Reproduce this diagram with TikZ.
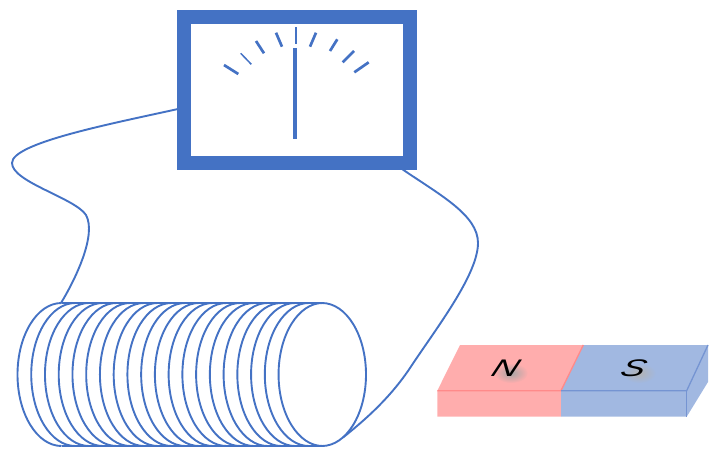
\documentclass[tikz,border=0pt]{standalone}
\usepackage{fontspec}
\setmainfont{Liberation Sans}
\definecolor{meterblue}{HTML}{4472C4}
\definecolor{northred}{HTML}{FFADAD}
\definecolor{northline}{HTML}{FF8A8A}
\definecolor{southblue}{HTML}{A1B8E1}
\definecolor{southline}{HTML}{7594D2}
\tikzset{
  wire/.style={draw=meterblue, line width=1.9pt},
  tick/.style={draw=meterblue, line width=2.7pt},
  pole/.style={font=\itshape\fontsize{24}{24}\selectfont, xscale=1.5, xslant=0.25, inner sep=0pt}
}
\begin{document}
\begin{tikzpicture}[x=1pt, y=-1pt]
\pgfmathsetmacro{\rx}{44}
\pgfmathsetmacro{\ry}{71.5}
\pgfmathsetmacro{\cy}{374.5}
\pgfmathsetmacro{\turn}{13.74}
\useasboundingbox (0,0) rectangle (716,458);

\draw[draw=meterblue, line width=14pt] (184,17) rectangle (410,163);
\draw[meterblue, line width=4pt] (295,48) -- (295,138.7);
\foreach \xa/\ya/\xb/\yb in {224/65/238.3/74, 256/41/264/53.3, 276/32.7/282/46.7, 296/27.3/296/44,
  316/32.7/310/46.7, 337.3/39.3/330/51, 354/51/342.7/62.3, 368.7/62.3/354.3/72.3}
  \draw[tick] (\xa,\ya) -- (\xb,\yb);
\draw[tick, line width=1.5pt] (240.7,53.3) -- (251.3,64.3);

\foreach \i in {0,...,19}
  \draw[wire] (61.5 + \i * \turn, \cy - \ry) arc[start angle=270, end angle=90, x radius=\rx, y radius=\ry];
\draw[wire] (322, \cy - \ry) arc[start angle=-90, end angle=90, x radius=\rx, y radius=\ry];
\draw[wire] (61.5, \cy - \ry) -- (322, \cy - \ry);
\draw[wire] (61.5, \cy + \ry) -- (322, \cy + \ry);

\coordinate (meterleft) at (178,109);
\coordinate (meterright) at (402,169);
\coordinate (coiltop) at (61,303);
\coordinate (coilend) at (343,437.5);
\draw[wire] (meterleft) .. controls (110,124) and (12,143) .. (12,163)
  .. controls (12,182) and (75,198) .. (86,215)
  .. controls (97,235) and (75,280) .. (coiltop);
\draw[wire] (meterright) .. controls (440,195) and (478,215) .. (478,243)
  .. controls (478,275) and (435,330) .. (410,368)
  .. controls (390,398) and (365,420) .. (coilend);

\fill[northred] (460,345) -- (583.3,345) -- (561,390.7) -- (561,416.7) -- (437.3,416.7) -- (437.3,390.7) -- cycle;
\fill[southblue] (583.3,345) -- (708,345) -- (708,382) -- (686.7,416.7) -- (561,416.7) -- (561,390.7) -- cycle;
\draw[northline, line width=1.3pt] (437.3,390.7) -- (561,390.7) -- (583.3,345);
\draw[southline, line width=1.3pt] (561,390.7) -- (686.7,390.7) -- (708,345);
\draw[southline, line width=1.3pt] (686.7,390.7) -- (686.7,416.7);

\shade[inner color=black!35, outer color=northred] (511,373) ellipse[x radius=17, y radius=10];
\shade[inner color=black!30, outer color=southblue] (639,373) ellipse[x radius=17, y radius=10];
\node[pole] (north) at (506,368) {N};
\node[pole] (south) at (634,368) {S};
\end{tikzpicture}
\end{document}
